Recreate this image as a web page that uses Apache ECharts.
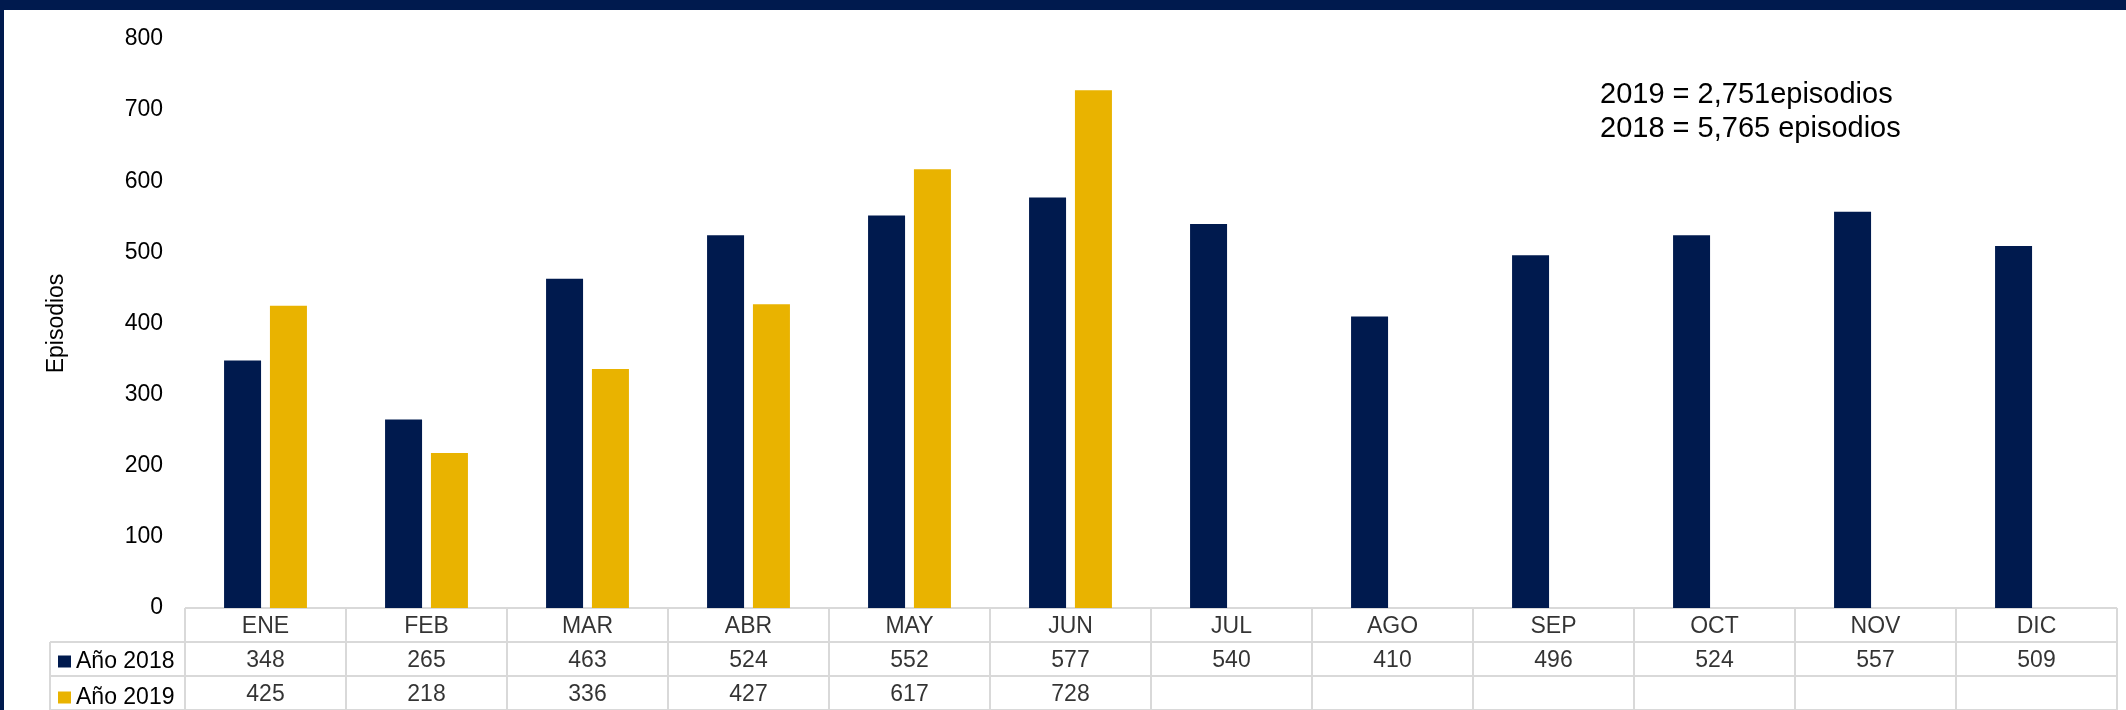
<!DOCTYPE html>
<html>
<head>
<meta charset="utf-8">
<script src="https://cdn.jsdelivr.net/npm/echarts@6/dist/echarts.min.js"></script>
<style>
  html, body { margin: 0; padding: 0; background: #fff; }
  #wrap { position: relative; width: 2126px; height: 710px; }
  #chart { width: 2126px; height: 710px; }
  #frame { position: absolute; left: 0; top: 0; width: 2126px; height: 710px; box-sizing: border-box;
           border-top: 10px solid #001a4e; border-left: 4px solid #001a4e; pointer-events: none; }
</style>
</head>
<body>
<div id="wrap"><div id="chart"></div><div id="frame"></div></div>
<script>
const months = ['ENE','FEB','MAR','ABR','MAY','JUN','JUL','AGO','SEP','OCT','NOV','DIC'];
const values2018 = [348, 265, 463, 524, 552, 577, 540, 410, 496, 524, 557, 509];
const values2019 = [425, 218, 336, 427, 617, 728];
const seriesNames = ['Año 2018', 'Año 2019'];
const yTicks = { min: 0, max: 800, interval: 100 };
const note = '2019 = 2,751episodios\n2018 = 5,765 episodios';
const axisName = 'Episodios';

const FONT = "'Liberation Sans', Arial, sans-serif";
const NAVY = '#001a4e';
const GOLD = '#e9b300';
const LINE = '#d9d9d9';

const chart = echarts.init(document.getElementById('chart'), null, { renderer: 'canvas' });

const hidden = { axisLine: { show: false }, axisTick: { show: false }, axisLabel: { show: false } };
const tableLine = { show: true, lineStyle: { color: LINE, width: 2 } };

function cellLabels(name, row, list) {
  return {
    name: name, type: 'scatter', xAxisIndex: 1, yAxisIndex: 1,
    symbolSize: 0, silent: true,
    data: list.map((v, i) => [i, row, v]),
    label: { show: true, position: 'inside', offset: [0, 2], formatter: p => String(p.value[2]),
             color: '#000', fontSize: 23, fontFamily: FONT }
  };
}

function legendRow(name, top) {
  return {
    data: [name], orient: 'vertical', left: 53, top: top,
    itemWidth: 13, itemHeight: 12, icon: 'rect', selectedMode: false,
    textStyle: { fontSize: 23, color: '#000', fontFamily: FONT }
  };
}

chart.setOption({
  animation: false,
  textStyle: { fontFamily: FONT },
  title: {
    text: note, left: 1600, top: 78, padding: 0,
    textStyle: { fontSize: 29, fontWeight: 'normal', color: '#000', lineHeight: 34, fontFamily: FONT }
  },
  legend: [legendRow(seriesNames[0], 645), legendRow(seriesNames[1], 681)],
  grid: [
    { left: 185, right: 9, top: 39, bottom: 102 },
    { left: 185, right: 9, top: 608, height: 102 },
    { left: 50, width: 135, top: 642, height: 68 }
  ],
  xAxis: [
    Object.assign({ type: 'category', data: months, gridIndex: 0 }, hidden),
    Object.assign({ type: 'category', data: months, gridIndex: 1, splitLine: tableLine }, hidden),
    Object.assign({ type: 'value', min: 0, max: 1, interval: 1, gridIndex: 2, splitLine: tableLine }, hidden)
  ],
  yAxis: [
    {
      type: 'value', gridIndex: 0, min: yTicks.min, max: yTicks.max, interval: yTicks.interval,
      axisLine: { show: false }, axisTick: { show: false }, splitLine: { show: false },
      axisLabel: { color: '#000', fontSize: 23, margin: 22, fontFamily: FONT, padding: [4, 0, 0, 0] },
      name: axisName, nameLocation: 'middle', nameGap: 117,
      nameTextStyle: { color: '#000', fontSize: 23, fontFamily: FONT }
    },
    Object.assign({ type: 'category', data: ['h', 'a', 'b'], inverse: true, gridIndex: 1, splitLine: tableLine }, hidden),
    Object.assign({ type: 'value', min: 0, max: 2, interval: 1, inverse: true, gridIndex: 2, splitLine: tableLine }, hidden)
  ],
  series: [
    { name: seriesNames[0], type: 'bar', data: values2018, barWidth: 37, barGap: '24%',
      itemStyle: { color: NAVY }, xAxisIndex: 0, yAxisIndex: 0 },
    { name: seriesNames[1], type: 'bar', data: values2019, barWidth: 37, barGap: '24%',
      itemStyle: { color: GOLD }, xAxisIndex: 0, yAxisIndex: 0 },
    cellLabels('header', 0, months),
    cellLabels('row2018', 1, values2018),
    cellLabels('row2019', 2, values2019)
  ]
});
</script>
</body>
</html>
